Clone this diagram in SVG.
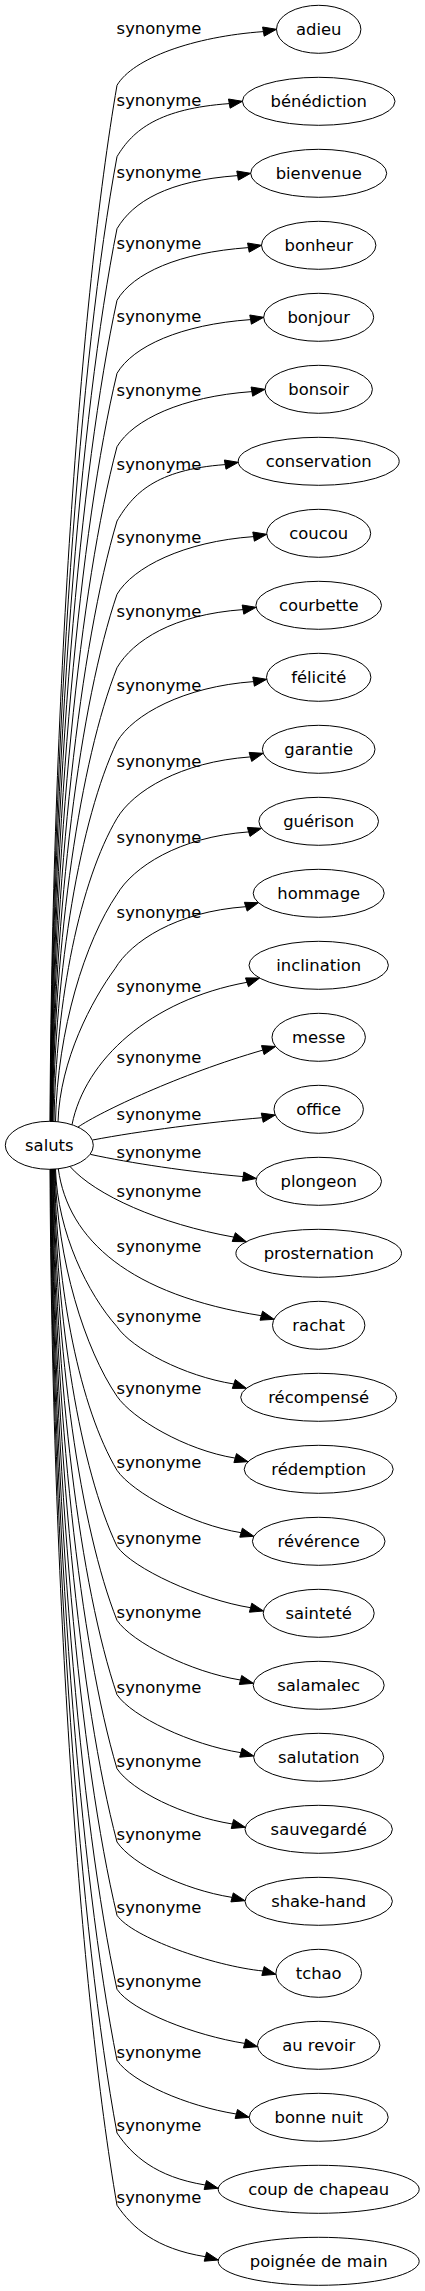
<svg xmlns="http://www.w3.org/2000/svg" width="425" height="2291" viewBox="0 0 425 2291">
<style>
text{font-family:"DejaVu Sans","Liberation Sans",sans-serif;font-size:16.4px;fill:#000;text-anchor:middle}
.n ellipse{fill:none;stroke:#000;stroke-width:1}
.e path{fill:none;stroke:#000;stroke-width:1}
.e polygon{fill:#000;stroke:#000;stroke-width:1}
</style>
<rect width="425" height="2291" fill="#fff"/>
<g id="connectors" class="e">
<path d="M50,1121.5 C52,701.8 80,299.8 117,85.3 C133,58.3 193.4,36.6 263.4,31.6"/><polygon points="264.2,36.2 276.5,29.3 262.6,27"/>
<path d="M50.3,1121.5 C52.3,730.8 80,356.4 117,156.7 C133,129.7 159.3,108.6 229.3,103.6"/><polygon points="230.1,108.2 242.4,101.3 228.5,99"/>
<path d="M50.6,1121.5 C52.6,759.9 80,413.5 117,228.7 C133,201.7 167.6,180.6 237.6,175.6"/><polygon points="238.4,180.2 250.7,173.3 236.8,171"/>
<path d="M50.9,1121.5 C52.9,788.9 80,470.3 117,300.3 C133,273.3 178.4,252.6 248.4,247.6"/><polygon points="249.2,252.2 261.5,245.3 247.6,243"/>
<path d="M51.2,1121.5 C53.2,818.5 80,528.2 117,373.3 C133,346.3 180.6,324.6 250.6,319.6"/><polygon points="251.4,324.2 263.7,317.3 249.8,315"/>
<path d="M51.5,1121.5 C53.5,848.2 80,586.4 117,446.7 C133,419.7 181.9,396.6 251.9,391.6"/><polygon points="252.7,396.2 265,389.3 251.1,387"/>
<path d="M51.8,1121.5 C53.8,878.3 80,645.3 117,521 C133,494 155.2,469.6 225.2,464.6"/><polygon points="226,469.2 238.3,462.3 224.4,460"/>
<path d="M52.1,1121.5 C54.1,908 80,703.4 117,594.3 C133,567.3 183.6,541.6 253.6,536.6"/><polygon points="254.4,541.2 266.8,534.3 252.8,532"/>
<path d="M52.4,1121.5 C54.4,937.7 80,761.6 117,667.7 C133,640.7 173,614.6 243,609.6"/><polygon points="243.8,614.2 256.1,607.3 242.2,605"/>
<path d="M53,1121.5 C55,967.7 80,820.3 117,741.7 C133,714.7 183.6,686.6 253.6,681.6"/><polygon points="254.4,686.2 266.7,679.3 252.8,677"/>
<path d="M54,1121.5 C56,998.7 80,881.1 117,818.3 C133,791.3 180.4,761.9 250.4,756.9"/><polygon points="251.7,761.4 263.2,753.3 249.1,752.4"/>
<path d="M55.5,1121.5 C57.5,1029.5 85,941.3 117,894.3 C133,867.3 178.7,836.9 248.7,831.9"/><polygon points="250,836.4 261.5,828.3 247.4,827.4"/>
<path d="M58,1121.8 C60,1059.8 92,1000 115,968.7 C131,941.7 175.8,911.7 245.8,906.7"/><polygon points="247.2,911.1 258.4,902.7 244.4,902.3"/>
<path d="M72,1124.7 C85,1060 150,1000 247,982.3"/><polygon points="248.5,986.7 259.6,978 245.5,977.9"/>
<path d="M78,1127.1 C100,1112 180,1074 262.8,1050.1"/><polygon points="264.1,1054.6 275.6,1046.5 261.5,1045.6"/>
<path d="M92.6,1140 C140,1131 210,1122 262.2,1117.7"/><polygon points="263.2,1122.3 275.3,1115 261.3,1113.1"/>
<path d="M90.5,1154.4 C130,1163 190,1172 243.1,1176.6"/><polygon points="242.5,1181.2 256.3,1178.5 243.8,1172"/>
<path d="M70,1166.5 C95,1195 160,1224 233.8,1237.1"/><polygon points="232.2,1241.5 246.3,1241.7 235.4,1232.7"/>
<path d="M58.3,1168.8 C68,1240 130,1295 261.3,1315.7"/><polygon points="260,1320.2 274.1,1319.3 262.6,1311.2"/>
<path d="M55.5,1169.1 C57.5,1232.9 88,1294.1 117,1326.7 C132,1348.7 183.8,1376 233.8,1384"/><polygon points="232.3,1388.4 246.4,1388.3 235.3,1379.6"/>
<path d="M55,1169.1 C57,1261.1 85,1349.3 117,1396.3 C132,1418.3 185.2,1450.1 235.2,1458.1"/><polygon points="233.9,1462.6 248,1461.7 236.5,1453.6"/>
<path d="M54.5,1169.1 C56.5,1291.1 80,1408 117,1470.3 C132,1492.3 191.1,1524.7 241.1,1532.7"/><polygon points="239.8,1537.2 253.9,1536.3 242.4,1528.2"/>
<path d="M54,1169.1 C56,1321.9 80,1468.2 117,1546.3 C132,1568.3 200.6,1599.7 250.6,1607.7"/><polygon points="249.4,1612.2 263.5,1611 251.8,1603.2"/>
<path d="M53.5,1169.1 C55.5,1351.8 80,1526.9 117,1620.3 C132,1642.3 190.5,1672 240.5,1680"/><polygon points="239.3,1684.5 253.4,1683.3 241.7,1675.5"/>
<path d="M53,1169.1 C55,1382 80,1585.9 117,1694.7 C132,1716.7 190.9,1744.7 240.9,1752.7"/><polygon points="239.7,1757.2 253.8,1756 242.1,1748.2"/>
<path d="M52.5,1169.1 C54.5,1411.9 80,1644.6 117,1768.7 C132,1790.7 182.4,1816 232.4,1824"/><polygon points="231.2,1828.5 245.3,1827.3 233.6,1819.5"/>
<path d="M52,1169.1 C54,1441.6 80,1702.7 117,1842 C132,1864 182.1,1889.4 232.1,1897.4"/><polygon points="230.9,1901.9 245,1900.7 233.3,1892.9"/>
<path d="M51.6,1169.1 C53.6,1471.3 80,1760.8 117,1915.3 C132,1937.3 213,1966 263,1971"/><polygon points="261.8,1975.5 275.9,1974.3 264.2,1966.5"/>
<path d="M51.2,1169.1 C53.2,1501.3 80,1819.5 117,1989.3 C132,2011.3 194.7,2035.4 244.7,2043.4"/><polygon points="243.5,2047.9 257.6,2046.7 245.9,2038.9"/>
<path d="M50.8,1169.1 C52.8,1530 80,1875.8 117,2060.3 C132,2082.3 186.3,2106 236.3,2114"/><polygon points="235.1,2118.5 249.2,2117.3 237.5,2109.5"/>
<path d="M50.4,1169.1 C52.4,1559.5 80,1933.5 117,2133 C132,2155 155.3,2177 205.3,2185"/><polygon points="204.1,2189.5 218.2,2188.3 206.5,2180.5"/>
<path d="M50,1169.1 C52,1588.8 80,1990.8 117,2205.3 C132,2227.3 155.4,2248.7 205.4,2256.7"/><polygon points="204.2,2261.2 218.3,2260 206.6,2252.2"/>
<text x="159" y="34.3">synonyme</text>
<text x="159" y="105.7">synonyme</text>
<text x="159" y="177.7">synonyme</text>
<text x="159" y="249.3">synonyme</text>
<text x="159" y="322.3">synonyme</text>
<text x="159" y="395.7">synonyme</text>
<text x="159" y="470">synonyme</text>
<text x="159" y="543.3">synonyme</text>
<text x="159" y="616.7">synonyme</text>
<text x="159" y="690.7">synonyme</text>
<text x="159" y="767.3">synonyme</text>
<text x="159" y="843.3">synonyme</text>
<text x="159" y="917.7">synonyme</text>
<text x="159" y="991.7">synonyme</text>
<text x="159" y="1063.3">synonyme</text>
<text x="159" y="1120">synonyme</text>
<text x="159" y="1157.7">synonyme</text>
<text x="159" y="1196.5">synonyme</text>
<text x="159" y="1252.3">synonyme</text>
<text x="159" y="1321.7">synonyme</text>
<text x="159" y="1394.3">synonyme</text>
<text x="159" y="1468.3">synonyme</text>
<text x="159" y="1544.3">synonyme</text>
<text x="159" y="1618.3">synonyme</text>
<text x="159" y="1692.7">synonyme</text>
<text x="159" y="1766.7">synonyme</text>
<text x="159" y="1840">synonyme</text>
<text x="159" y="1913.3">synonyme</text>
<text x="159" y="1987.3">synonyme</text>
<text x="159" y="2058.3">synonyme</text>
<text x="159" y="2131">synonyme</text>
<text x="159" y="2203.3">synonyme</text>
</g>
<g id="node-saluts" class="n"><ellipse cx="49.3" cy="1145.3" rx="44" ry="24"/><text x="49.3" y="1150.8">saluts</text></g>
<g id="node-adieu" class="n"><ellipse cx="318.7" cy="29.3" rx="42.2" ry="24"/><text x="318.7" y="34.8">adieu</text></g>
<g id="node-benediction" class="n"><ellipse cx="318.7" cy="101.3" rx="76.3" ry="24"/><text x="318.7" y="106.8">bénédiction</text></g>
<g id="node-bienvenue" class="n"><ellipse cx="318.7" cy="173.3" rx="68" ry="24"/><text x="318.7" y="178.8">bienvenue</text></g>
<g id="node-bonheur" class="n"><ellipse cx="318.7" cy="245.3" rx="57.2" ry="24"/><text x="318.7" y="250.8">bonheur</text></g>
<g id="node-bonjour" class="n"><ellipse cx="318.7" cy="317.3" rx="55" ry="24"/><text x="318.7" y="322.8">bonjour</text></g>
<g id="node-bonsoir" class="n"><ellipse cx="318.7" cy="389.3" rx="53.7" ry="24"/><text x="318.7" y="394.8">bonsoir</text></g>
<g id="node-conservation" class="n"><ellipse cx="318.7" cy="461.3" rx="80.5" ry="24"/><text x="318.7" y="466.8">conservation</text></g>
<g id="node-coucou" class="n"><ellipse cx="318.7" cy="533.3" rx="52" ry="24"/><text x="318.7" y="538.8">coucou</text></g>
<g id="node-courbette" class="n"><ellipse cx="318.7" cy="605.3" rx="62.8" ry="24"/><text x="318.7" y="610.8">courbette</text></g>
<g id="node-felicite" class="n"><ellipse cx="318.7" cy="677.3" rx="52.2" ry="24"/><text x="318.7" y="682.8">félicité</text></g>
<g id="node-garantie" class="n"><ellipse cx="318.7" cy="749.3" rx="56.3" ry="24"/><text x="318.7" y="754.8">garantie</text></g>
<g id="node-guerison" class="n"><ellipse cx="318.7" cy="821.3" rx="59.8" ry="24"/><text x="318.7" y="826.8">guérison</text></g>
<g id="node-hommage" class="n"><ellipse cx="318.7" cy="893.3" rx="65.5" ry="24"/><text x="318.7" y="898.8">hommage</text></g>
<g id="node-inclination" class="n"><ellipse cx="318.7" cy="965.3" rx="69.7" ry="24"/><text x="318.7" y="970.8">inclination</text></g>
<g id="node-messe" class="n"><ellipse cx="318.7" cy="1037.3" rx="46.7" ry="24"/><text x="318.7" y="1042.8">messe</text></g>
<g id="node-office" class="n"><ellipse cx="318.7" cy="1109.3" rx="44.7" ry="24"/><text x="318.7" y="1114.8">office</text></g>
<g id="node-plongeon" class="n"><ellipse cx="318.7" cy="1181.3" rx="62.8" ry="24"/><text x="318.7" y="1186.8">plongeon</text></g>
<g id="node-prosternation" class="n"><ellipse cx="318.7" cy="1253.3" rx="82.8" ry="24"/><text x="318.7" y="1258.8">prosternation</text></g>
<g id="node-rachat" class="n"><ellipse cx="318.7" cy="1325.3" rx="46.2" ry="24"/><text x="318.7" y="1330.8">rachat</text></g>
<g id="node-recompense" class="n"><ellipse cx="318.7" cy="1397.3" rx="78" ry="24"/><text x="318.7" y="1402.8">récompensé</text></g>
<g id="node-redemption" class="n"><ellipse cx="318.7" cy="1469.3" rx="74.5" ry="24"/><text x="318.7" y="1474.8">rédemption</text></g>
<g id="node-reverence" class="n"><ellipse cx="318.7" cy="1541.3" rx="66.3" ry="24"/><text x="318.7" y="1546.8">révérence</text></g>
<g id="node-saintete" class="n"><ellipse cx="318.7" cy="1613.3" rx="55.5" ry="24"/><text x="318.7" y="1618.8">sainteté</text></g>
<g id="node-salamalec" class="n"><ellipse cx="318.7" cy="1685.3" rx="65.5" ry="24"/><text x="318.7" y="1690.8">salamalec</text></g>
<g id="node-salutation" class="n"><ellipse cx="318.7" cy="1757.3" rx="65" ry="24"/><text x="318.7" y="1762.8">salutation</text></g>
<g id="node-sauvegarde" class="n"><ellipse cx="318.7" cy="1829.3" rx="73.7" ry="24"/><text x="318.7" y="1834.8">sauvegardé</text></g>
<g id="node-shake-hand" class="n"><ellipse cx="318.7" cy="1901.3" rx="73.7" ry="24"/><text x="318.7" y="1906.8">shake-hand</text></g>
<g id="node-tchao" class="n"><ellipse cx="318.7" cy="1973.3" rx="42.8" ry="24"/><text x="318.7" y="1978.8">tchao</text></g>
<g id="node-au-revoir" class="n"><ellipse cx="318.7" cy="2045.3" rx="61.2" ry="24"/><text x="318.7" y="2050.8">au revoir</text></g>
<g id="node-bonne-nuit" class="n"><ellipse cx="318.7" cy="2117.3" rx="69.5" ry="24"/><text x="318.7" y="2122.8">bonne nuit</text></g>
<g id="node-coup-de-chapeau" class="n"><ellipse cx="318.7" cy="2189.3" rx="100.5" ry="24"/><text x="318.7" y="2194.8">coup de chapeau</text></g>
<g id="node-poignee-de-main" class="n"><ellipse cx="318.7" cy="2261.3" rx="100.5" ry="24"/><text x="318.7" y="2266.8">poignée de main</text></g>
</svg>
